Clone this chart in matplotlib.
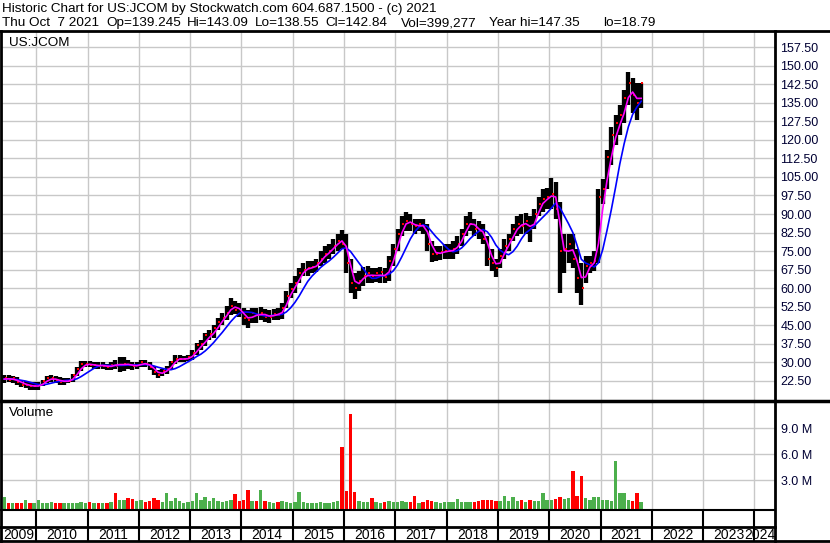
import numpy as np
import pandas as pd
import matplotlib
matplotlib.use('Agg')
import matplotlib.pyplot as plt
from matplotlib.lines import Line2D

plt.rcParams['font.family'] = ['Liberation Sans', 'DejaVu Sans']

title_line1 = 'Historic Chart for US:JCOM by Stockwatch.com 604.687.1500 - (c) 2021'
title_fields = ['Thu Oct  7 2021', 'Op=139.245', 'Hi=143.09', 'Lo=138.55', 'Cl=142.84',
                'Vol=399,277', 'Year hi=147.35', 'lo=18.79']
symbol = 'US:JCOM'

first_month = '2009-05'
last_month = '2021-10'

# monthly high / low / close
high = [25, 25, 24.5, 24, 23, 22.5, 22, 22,
        22, 23, 24.5, 25, 24.5, 24, 23.5, 23.5, 25.5, 28, 30.5, 30.5,
        30.5, 30, 30, 30, 29.5, 30, 31, 32, 32, 31, 30, 30,
        31, 31, 30, 28.5, 27, 27.5, 28.5, 30.5, 33, 33, 32.5, 33,
        35, 38, 39, 42, 43, 45, 48, 50, 53, 56, 55, 54,
        52, 51, 52, 52, 52.5, 51.5, 51, 51.5, 52, 54, 59, 62,
        65, 68, 70, 71, 71, 72, 75, 77, 78, 80, 82, 83.5,
        82, 72, 66, 67, 68.5, 69, 68, 68, 68.5, 68, 73, 78,
        84, 89, 91, 90, 88, 88, 88, 86, 79, 77, 77, 78,
        78, 79, 81, 84, 89, 91, 88, 87, 86, 81, 76, 72,
        76, 80, 82, 86, 89, 90, 90.5, 89, 92, 97, 100, 100.5,
        104.6, 103, 95, 82, 82, 82, 76, 70, 73, 73, 75, 100,
        104, 116, 125, 130, 134, 140, 147.35, 145, 143, 143.09]
low = [21.5, 22, 21.5, 21, 20, 19.5, 19, 18.8,
       19, 20.5, 21.5, 22, 21.5, 21, 21, 21.5, 22, 24.5, 26.5, 28,
       28, 27.5, 27.5, 27.5, 27, 27, 27.5, 26, 26.5, 27.5, 27, 27.5,
       28, 28, 27, 25, 23.5, 24.5, 25.5, 27, 29.5, 30, 30, 30.5,
       31, 33, 35, 36.5, 39, 40, 43, 45, 47, 49, 49.5, 48.5,
       45, 44, 46, 46, 47, 46.5, 46, 47, 47, 47.5, 52, 56,
       58, 62, 65, 65, 66, 66.5, 69, 70, 72, 74, 75, 76,
       66, 58, 55.5, 59, 61, 62, 62, 62.5, 62, 62, 63, 69,
       75, 81, 83, 83, 82, 83, 82, 75, 70.5, 71, 71.5, 72,
       72, 72, 74, 77, 81, 83, 81, 80, 78, 69, 67, 64.5,
       68, 72, 75, 79, 81, 82, 82, 78.5, 84, 89, 91, 92,
       92, 88, 58, 66, 70, 68, 58, 53.2, 62, 66, 67, 70,
       94, 100, 110, 118, 122, 127, 134, 131, 128, 133]
close = [23.5, 23, 23.5, 22, 21, 21, 20.5, 20.5,
         21, 22.5, 23.5, 23.5, 23, 22, 22.5, 22.5, 25, 27.5, 29.5, 29.5,
         29, 29, 28.5, 28.5, 28, 29, 28.5, 29, 29.5, 29, 28.5, 29,
         30, 29.5, 28, 26, 25, 26.5, 27.5, 30, 31.5, 31.5, 31.5, 32,
         34, 37, 37.5, 41, 41.5, 44, 46.5, 48, 50, 53, 51, 50,
         48, 47, 50, 49, 50, 48.5, 48.5, 49.5, 49, 52, 57, 59.5,
         62, 66, 67.5, 68, 68.5, 70, 72, 74, 75, 77, 79, 78,
         70, 62, 60, 63, 65, 66, 65, 66, 66.5, 64.5, 71, 76,
         82, 86, 87, 86, 85, 86, 85, 78, 74, 74, 74.5, 75,
         75, 76, 78, 82, 86, 86, 84, 83, 80, 72, 70, 68,
         73, 77, 80, 84, 86, 85, 87, 84, 90, 94, 96, 97,
         98, 92, 75, 76, 78, 72, 64, 60, 69, 70, 71, 97,
         100, 113, 122, 127, 130, 137, 143, 138, 135, 142.84]
# volume in millions
volume = [1.05, 0.35, 0.3, 0.3, 0.35, 0.65, 0.3, 0.35,
          0.75, 0.35, 0.3, 0.5, 0.35, 0.3, 0.3, 0.35, 0.3, 0.35, 0.45, 0.35,
          0.45, 0.35, 0.35, 0.3, 0.35, 0.45, 1.45, 0.65, 0.65, 0.95, 0.8, 0.55,
          0.75, 0.45, 0.55, 0.95, 0.65, 0.45, 1.45, 0.55, 0.95, 0.55, 0.35, 0.45,
          0.55, 1.45, 0.65, 1.05, 0.55, 0.95, 0.55, 0.45, 0.55, 0.65, 1.35, 0.55,
          0.65, 1.85, 0.55, 0.55, 1.85, 0.55, 0.45, 0.35, 0.45, 0.55, 0.45, 0.35,
          0.45, 1.65, 0.45, 0.35, 0.35, 0.3, 0.45, 0.35, 0.3, 0.45, 0.55, 6.9,
          1.75, 10.7, 1.65, 0.55, 0.45, 0.45, 0.95, 0.45, 0.35, 0.45, 0.55, 0.45,
          0.45, 0.55, 0.45, 0.45, 1.15, 0.35, 0.45, 0.75, 0.55, 0.45, 0.35, 0.45,
          0.45, 0.45, 0.85, 0.45, 0.45, 0.45, 0.45, 0.55, 0.75, 0.65, 0.65, 0.55,
          0.55, 1.15, 0.55, 1.05, 0.55, 0.75, 0.45, 0.65, 0.55, 0.55, 1.55, 0.75,
          0.65, 0.85, 1.05, 0.85, 0.95, 4.1, 1.15, 3.5, 0.95, 0.65, 1.05, 1.05,
          0.65, 0.75, 0.55, 5.2, 1.45, 1.45, 0.65, 0.55, 1.45, 0.45]

price_ticks = np.arange(22.5, 158, 7.5)
vol_ticks = [3.0, 6.0, 9.0]
years = list(range(2009, 2025))

months = pd.period_range(first_month, last_month, freq='M')
x = np.array([p.year + (p.month - 0.5) / 12 for p in months])
high, low, close, volume = map(np.array, (high, low, close, volume))

mid = pd.Series((high + low) / 2)
ma_fast = mid.rolling(2, min_periods=1).mean()
ma_slow = mid.rolling(6, min_periods=1).mean()

W, H = 830, 543
def box(left, top, right, bottom):
    return [left / W, 1 - bottom / H, (right - left) / W, (bottom - top) / H]

xlim = (2009.312, 2024.40)
grid_kw = dict(color='#c8c8c8', lw=1)
fs = 9.7

fig = plt.figure(figsize=(W / 100, H / 100), dpi=100)

fig.text(2 / W, 1 - 9 / H, title_line1, fontsize=fs, va='center')
for field, px in zip(title_fields, [2, 106, 187, 255, 325, 401, 489, 603]):
    fig.text(px / W, 1 - 23 / H, field, fontsize=fs, va='center')

# price panel
ax = fig.add_axes(box(1, 32, 775, 400))
ax.set_xlim(*xlim)
ax.set_ylim(14.8, 163.6)
ax.set_xticks(years[1:])
ax.set_yticks(price_ticks)
ax.yaxis.tick_right()
ax.set_yticklabels(['%.2f' % t for t in price_ticks])
ax.tick_params(axis='y', length=0, pad=4, labelsize=9, labelcolor='#000033')
ax.tick_params(axis='x', length=0, labelbottom=False)
ax.grid(True, **grid_kw)
ax.set_axisbelow(True)
for s in ax.spines.values():
    s.set_visible(False)
ax.vlines(x, low, high, color='black', lw=3.1)
ax.plot(x + 0.3 / 12, close, 's', color='red', ms=1.8, mew=0)
ax.plot(x, ma_slow, color='#0000ff', lw=1.2)
ax.plot(x, ma_fast, color='#ff00ff', lw=1.2)
ax.text(8 / 774, 1 - 11 / 368, symbol, transform=ax.transAxes, fontsize=fs, va='center')

# volume panel
vax = fig.add_axes(box(1, 402, 775, 509))
vax.set_xlim(*xlim)
vax.set_ylim(-0.35, 12.07)
vax.set_xticks(years[1:])
vax.set_yticks(vol_ticks)
vax.yaxis.tick_right()
vax.set_yticklabels(['%.1f M' % t for t in vol_ticks])
vax.tick_params(axis='y', length=0, pad=4, labelsize=9, labelcolor='#000033')
vax.tick_params(axis='x', length=0, labelbottom=False)
vax.grid(True, **grid_kw)
vax.set_axisbelow(True)
for s in vax.spines.values():
    s.set_visible(False)
up = np.r_[True, close[1:] >= close[:-1]]
vax.bar(x, volume + 0.35, bottom=-0.35, width=0.8 / 12,
        color=np.where(up, '#4caf4c', '#ff0000'), lw=0)
vax.text(8 / 774, 1 - 11 / 107, 'Volume', transform=vax.transAxes, fontsize=fs, va='center')

# date rows
dax = fig.add_axes(box(1, 509, 775, 541))
dax.set_xlim(*xlim)
dax.set_ylim(0, 1)
dax.axis('off')
dax.vlines(years[1:], 0, 1, color='black', lw=1.5)
for y in years:
    lo_edge = max(y, xlim[0])
    hi_edge = min(y + 1, xlim[1])
    if y == years[-1]:
        dax.text(hi_edge, 0.2, str(y), ha='right', va='center', fontsize=10)
    else:
        dax.text((lo_edge + hi_edge) / 2, 0.2, str(y), ha='center', va='center', fontsize=10)

# frame lines
def hline(py, x0, x1, lw=2):
    fig.add_artist(Line2D([x0 / W, x1 / W], [1 - py / H, 1 - py / H], color='black', lw=lw))
def vline(px, y0, y1, lw=2):
    fig.add_artist(Line2D([px / W, px / W], [1 - y0 / H, 1 - y1 / H], color='black', lw=lw))

hline(31, 0, W)
hline(401, 0, W, lw=2.5)
hline(510, 0, 775, lw=1.5)
hline(526.5, 0, 775)
hline(541, 0, W)
vline(775, 31, 541)
vline(0.8, 31, 541)

fig.savefig('out.png', dpi=100)
